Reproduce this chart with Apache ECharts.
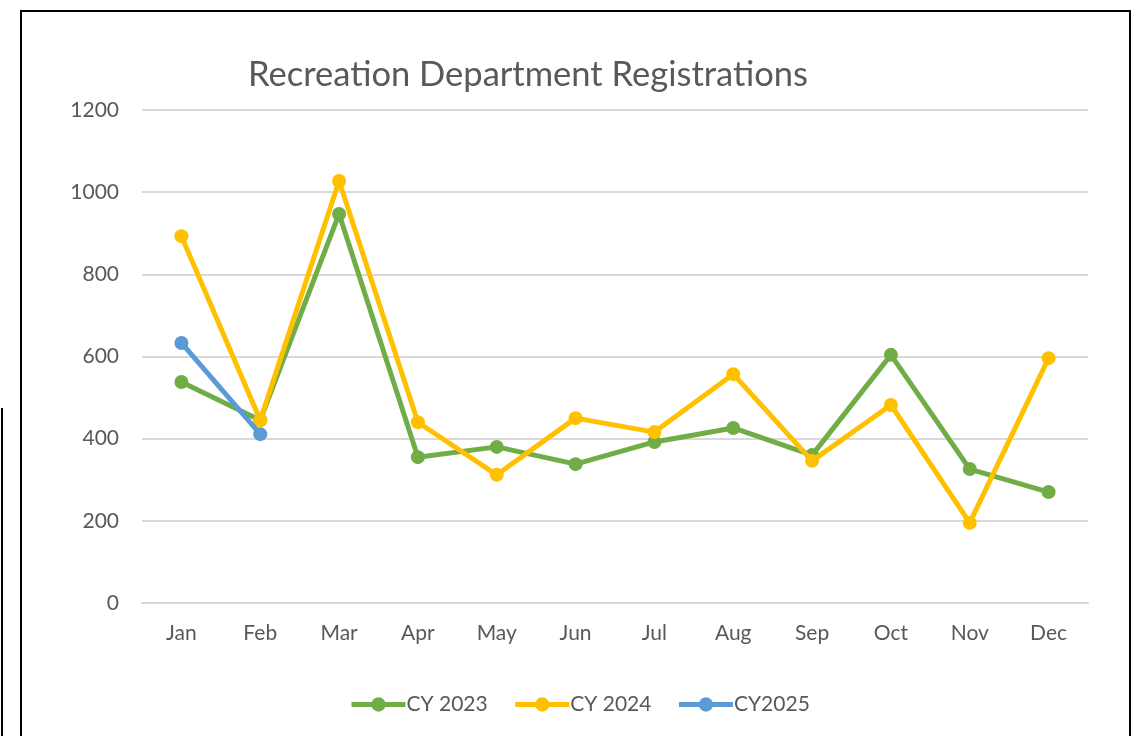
<!DOCTYPE html>
<html>
<head>
<meta charset="utf-8">
<script src="https://cdn.jsdelivr.net/npm/echarts@6/dist/echarts.min.js"></script>
<style>
  html, body { margin: 0; padding: 0; background: #fff; }
  #wrap { position: relative; width: 1148px; height: 736px; overflow: hidden; }
  #chart { position: absolute; left: 0; top: 0; width: 1148px; height: 736px; }
  .frame { position: absolute; left: 20px; top: 10px; width: 1111px; height: 740px; border: 2px solid #000; box-sizing: border-box; pointer-events: none; }
  .edge { position: absolute; left: 1px; top: 408px; width: 2px; height: 330px; background: #000; }
</style>
</head>
<body>
<div id="wrap">
  <div id="chart"></div>
  <div class="frame"></div>
  <div class="edge"></div>
</div>
<script>
const months = ['Jan', 'Feb', 'Mar', 'Apr', 'May', 'Jun', 'Jul', 'Aug', 'Sep', 'Oct', 'Nov', 'Dec']
const cy2023 = [538, 445, 947, 355, 380, 338, 392, 426, 360, 604, 326, 270]
const cy2024 = [893, 445, 1027, 440, 312, 450, 416, 557, 346, 482, 195, 596]
const cy2025 = [633, 411]
const seriesNames = ['CY 2023', 'CY 2024', 'CY2025']
const colors = ['#70AD47', '#FFC000', '#5B9BD5']

const myChart = echarts.init(document.getElementById('chart'))

const mkLine = (name, data, color, z) => ({
    name,
    type: 'line',
    data,
    z,
    symbol: 'circle',
    symbolSize: 14,
    lineStyle: { width: 5, color },
    itemStyle: { color },
    emphasis: { disabled: true }
})

const option = {
    animation: false,
    textStyle: { fontFamily: 'Lato, "Open Sans", sans-serif' },
    title: {
        text: 'Recreation Department Registrations',
        left: 523,
        top: 52,
        textAlign: 'center',
        textStyle: { fontSize: 34.5, fontWeight: 'normal', color: '#595959', fontFamily: 'Lato, sans-serif' }
    },
    legend: {
        bottom: 16,
        left: 344,
        itemWidth: 54,
        itemHeight: 18,
        itemGap: 25,
        lineStyle: { width: 5 },
        textStyle: { fontSize: 21, color: '#595959', padding: [0, 0, 0, -4] },
        data: seriesNames
    },
    grid: { left: 142, right: 60, top: 110, bottom: 133 },
    xAxis: {
        type: 'category',
        data: months,
        boundaryGap: true,
        axisLine: { lineStyle: { color: '#d9d9d9', width: 2 } },
        axisTick: { show: false },
        axisLabel: { fontSize: 21, color: '#595959', margin: 20 }
    },
    yAxis: {
        type: 'value',
        min: 0,
        max: 1200,
        interval: 200,
        axisLine: { show: false },
        axisTick: { show: false },
        axisLabel: { fontSize: 21, color: '#595959', margin: 23, formatter: v => String(v) },
        splitLine: { lineStyle: { color: '#d9d9d9', width: 2 } }
    },
    series: [
        mkLine(seriesNames[0], cy2023, colors[0], 2),
        mkLine(seriesNames[1], cy2024, colors[1], 3),
        mkLine(seriesNames[2], cy2025, colors[2], 4)
    ]
}

myChart.setOption(option)
</script>
</body>
</html>
